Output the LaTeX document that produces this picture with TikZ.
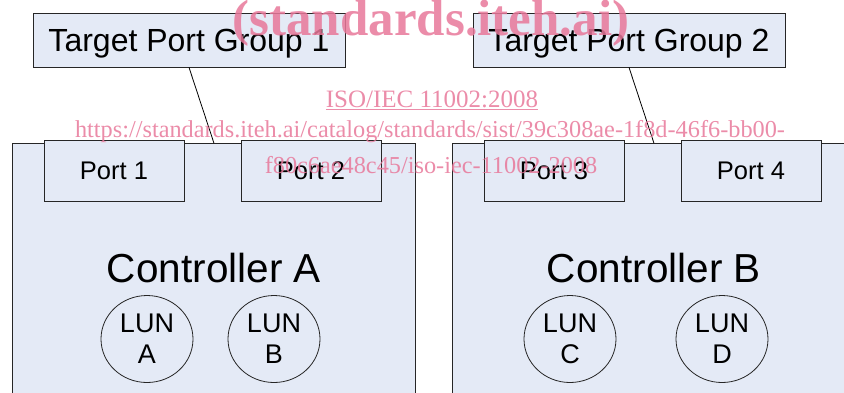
\documentclass[tikz,border=0pt]{standalone}
\usepackage{fontspec}
\setmainfont{Liberation Sans}
\newfontfamily\wmfont{Liberation Serif}
\usetikzlibrary{shapes.geometric}
\usetikzlibrary{positioning}
\definecolor{boxfill}{RGB}{228,234,246}
\definecolor{wmpink}{RGB}{232,120,154}

\begin{document}
\begin{tikzpicture}[x=1pt,y=-1pt,
      box/.style={draw=black!85,fill=boxfill,line width=0.8pt,inner sep=0pt,text depth=0pt},
      group/.style={box,minimum width=312pt,minimum height=54pt,font=\fontsize{32}{38}\selectfont},
      ctrl/.style={box,anchor=north west,minimum width=403pt,minimum height=300pt},
      port/.style={box,minimum width=140pt,minimum height=61pt,font=\fontsize{25.5}{30}\selectfont},
      lun/.style={ellipse,draw=black!85,line width=0.8pt,minimum width=92pt,minimum height=87pt,
        inner sep=0pt,align=center,font=\fontsize{27}{31}\selectfont},
      ctrllabel/.style={font=\fontsize{40.5}{48}\selectfont,text depth=0pt},
      wm/.style={text=wmpink,text opacity=0.85,anchor=base,font=\wmfont\fontsize{24.3}{30}\selectfont},
      ]
  \useasboundingbox (0,0) rectangle (844,392);
  \clip (0,0) rectangle (844,392);

  \node[ctrl] (ctrlA) at (12,143) {};
  \node[ctrl] (ctrlB) at (452,143) {};

  \node[port] (port1) at (114,170.5) {Port 1};
  \node[port] (port2) at (311,170.5) {Port 2};
  \node[port] (port3) at (554,170.5) {Port 3};
  \node[port] (port4) at (751,170.5) {Port 4};

  \node[ctrllabel] (labelA) at ([yshift=-124.5pt]ctrlA.north) {Controller A};
  \node[ctrllabel] (labelB) at ([yshift=-124.5pt]ctrlB.north) {Controller B};

  \node[lun] (lunA) at (147,339) {LUN\\A};
  \node[lun] (lunB) at (274,339) {LUN\\B};
  \node[lun] (lunC) at (570,339) {LUN\\C};
  \node[lun] (lunD) at (722,339) {LUN\\D};

  \node[group] (tpg1) at (189,40) {Target Port Group 1};
  \node[group] (tpg2) at (629,40) {Target Port Group 2};

  \draw[line width=0.8pt] (tpg1.south) -- (ctrlA.north);
  \draw[line width=0.8pt] (tpg2.south) -- (ctrlB.north);

  \node[wm,font=\wmfont\bfseries\fontsize{51}{60}\selectfont] (wmTitle) at (431,35) {(standards.iteh.ai)};
  \node[wm,font=\wmfont\fontsize{25}{30}\selectfont] (wmStd) at (432,107) {\underline{ISO/IEC 11002:2008}};
  \node[wm] (wmUrlA) at (430,137) {https://standards.iteh.ai/catalog/standards/sist/39c308ae-1f8d-46f6-bb00-};
  \node[wm] (wmUrlB) at (431,173) {f80c6ae48c45/iso-iec-11002-2008};
\end{tikzpicture}
\end{document}
